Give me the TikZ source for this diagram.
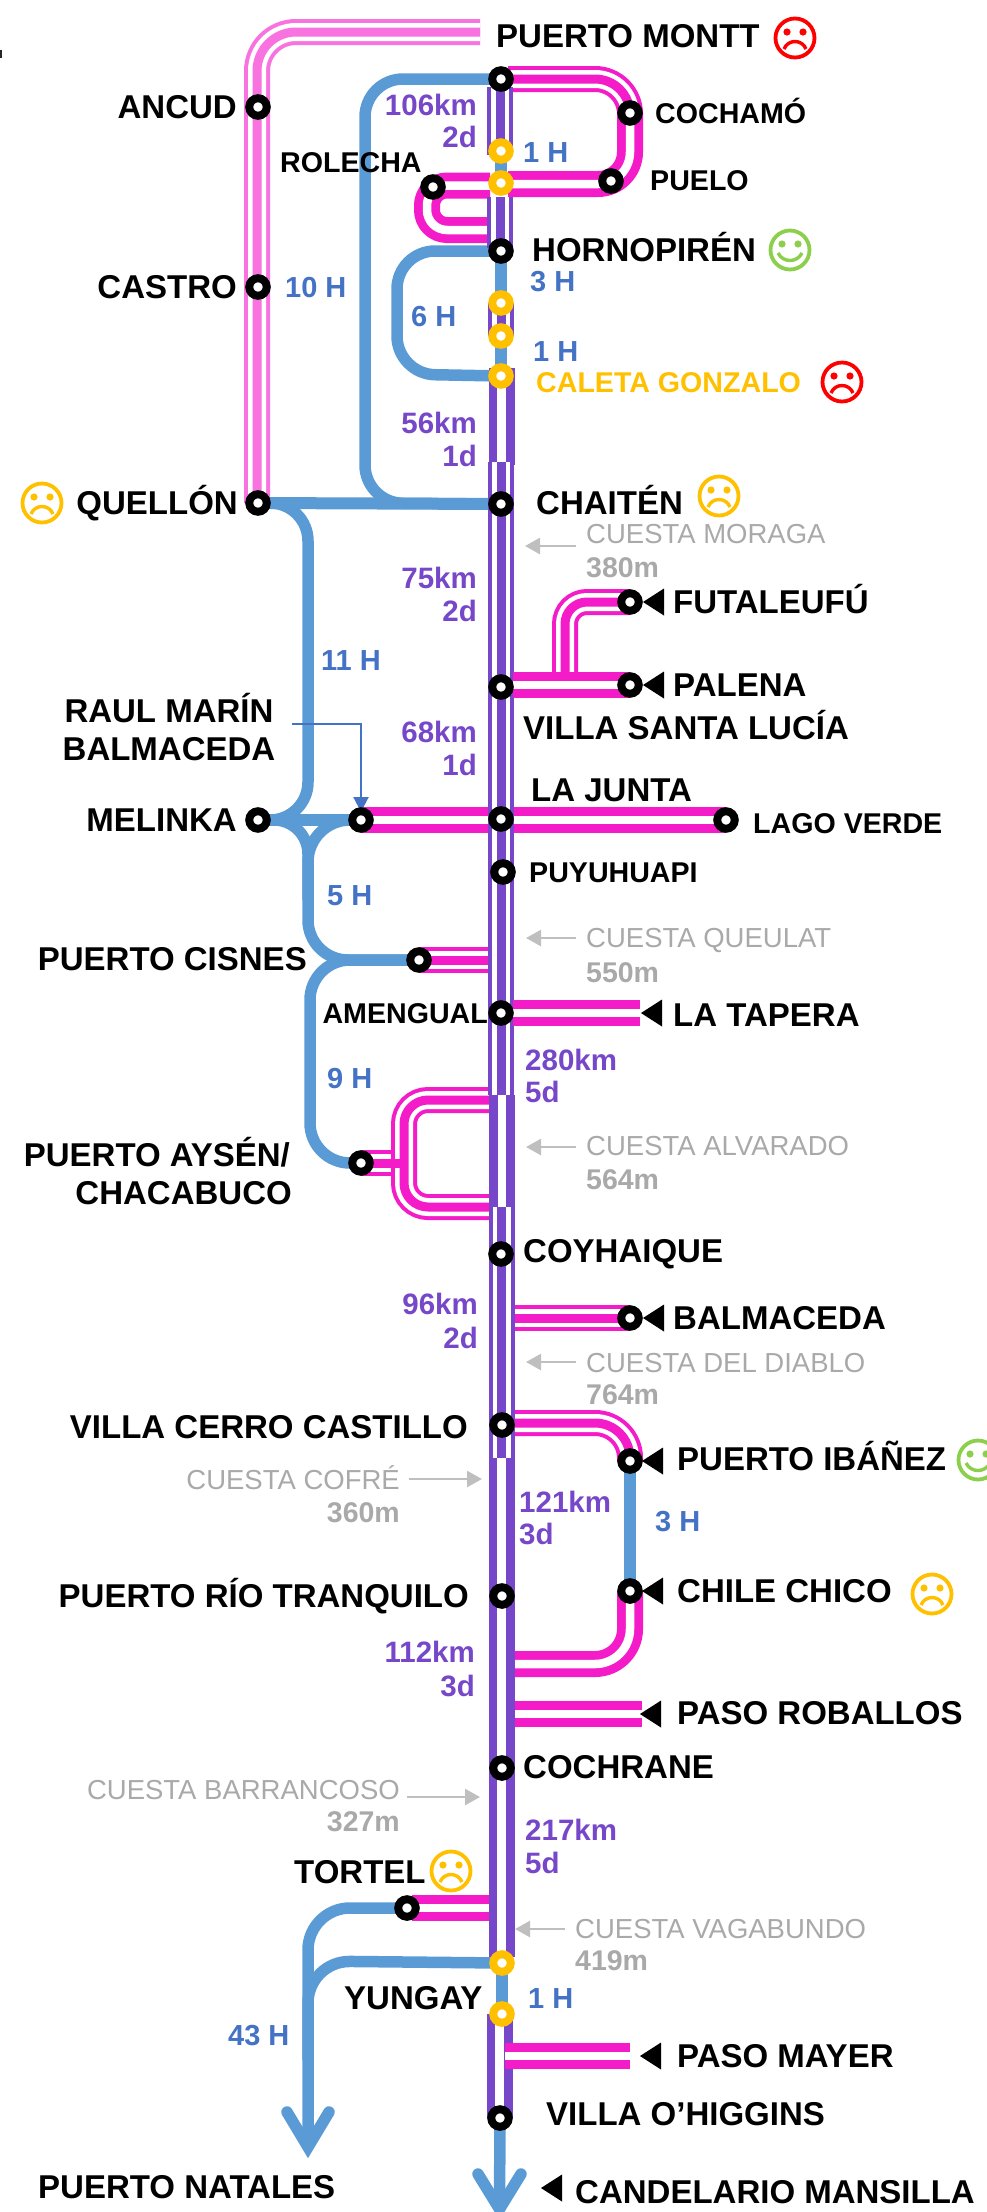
\documentclass[tikz,border=0pt]{standalone}
\usepackage{fontspec}
\setmainfont{Liberation Sans}
\usetikzlibrary{backgrounds,arrows.meta}
\definecolor{cmag}{HTML}{F41CC8}
\definecolor{cpink}{HTML}{F973E0}
\definecolor{cpur}{HTML}{7647C8}
\definecolor{cblu}{HTML}{5B9BD5}
\definecolor{cbtx}{HTML}{4472C4}
\definecolor{cyel}{HTML}{FFC000}
\definecolor{cgar}{HTML}{BFBFBF}
\definecolor{cgtx}{HTML}{A9A9A9}
\definecolor{cgrn}{HTML}{8CCF4D}
\newcommand\tripleL[3][]{\draw[#1,#2,line width=26pt] #3; \draw[#1,white,line width=18pt] #3; \draw[#1,#2,line width=9pt] #3;}
\newcommand\doubleL[3][]{\draw[#1,#2,line width=26pt] #3; \draw[#1,white,line width=8.5pt] #3;}
\newcommand\txt[5]{\node[#1,anchor=#2] (#3) at (#4) {#5};}
\newcommand\tri[2]{\fill[black] (#1,#2) -- ++(21,-13.5) -- ++(0,27) -- cycle;}
\tikzset{
 st/.style={circle,draw=black,fill=white,line width=8pt,minimum size=17.5pt,inner sep=0pt},
 yst/.style={st,draw=cyel},
 bl/.style={cblu,line width=11.5pt},
 big/.style={font=\fontsize{33}{36}\selectfont\bfseries,inner sep=0pt,text height=23pt,text depth=0pt,black},
 mid/.style={font=\fontsize{28.6}{32}\selectfont\bfseries,inner sep=0pt,text height=20pt,text depth=0pt,black},
 pur/.style={mid,text=cpur,font=\fontsize{29.5}{32}\selectfont\bfseries},
 btx/.style={mid,text=cbtx,font=\fontsize{29}{32}\selectfont\bfseries},
 gr/.style={font=\fontsize{27.5}{30}\selectfont,inner sep=0pt,text height=19pt,text depth=0pt,text=cgtx},
 grb/.style={gr,font=\fontsize{28.5}{30}\selectfont\bfseries},
 garr/.style={cgar,line width=2.5pt,-{Triangle[length=15pt,width=16pt]}},
 barr/.style={cbtx,line width=2pt,-{Triangle[length=15pt,width=15pt]}},
 pics/sadf/.style={code={
  \draw[#1,line width=3.8pt] (0,0) circle (19.5pt);
  \fill[#1] (-8,-6) circle (3.6pt) (8,-6) circle (3.6pt);
  \draw[#1,line width=3.4pt] (-11,11) .. controls (-7,1) and (7,1) .. (11,11);}},
 pics/hapf/.style={code={
  \draw[#1,line width=3.8pt] (0,0) circle (19.5pt);
  \fill[#1] (-8,-6) circle (3.6pt) (8,-6) circle (3.6pt);
  \draw[#1,line width=3.4pt] (-12,3) .. controls (-7,13) and (7,13) .. (12,3);}},
}
\begin{document}
\begin{tikzpicture}[x=1pt,y=-1pt]
\useasboundingbox (0,0) rectangle (987,2212);
\fill[black!85] (0,50) rectangle (1.5,58);
% stations
\foreach \n/\x/\y in {montt/501/79,ancud/258/107,castro/258/287,quellon/258/503,cochamo/630/113,puelo/611/181,rolecha/433/187,hornopiren/501/251,chaiten/501/504,vsl/501/687,lajunta/501/819,puyuhuapi/503/872,amengual/501/1013,cisnes/419/960,aysen/361/1163,raul/361/820,melinka/258/820,lagoverde/726/820,futaleufu/630/602,palena/630/685,coyhaique/501/1254,balmaceda/630/1318,cerrocastillo/502/1425,ibanez/630/1461,chilechico/630/1591,riotranquilo/502/1596,cochrane/502/1768,tortel/407/1908,ohiggins/500/2118}
 {\node[st] (\n) at (\x,\y) {};}
\foreach \n/\x/\y in {y1/501/151,y2/501/183,y3/501/303,y4/501/336,caleta/501/376,yungay/502/1963,y7/502/2014}
 {\node[yst] (\n) at (\x,\y) {};}
% free ends and bends
\foreach \n/\x/\y in {pmE/480/32,pmC/257/32,pmQ/257/503,cA/508/79,cB/630/79,pA/508/184,pB/630/184,rA/490/185.5,rB/427/185.5,rC/427/230,rD/490/230,
 fC/565/602,fD/565/676,cJa/308/503,cJb/308/820,cJc/308/900,cD/310/960,cE/310/1163,bMa/365/79,bMb/365/503,bHa/397/251,bHb/397/374,
 cisE/489/960,ayU/404/1100,ayD/404/1207,ayA/489/1100,ayB/489/1207,ayM/404/1163,ayS/392/1163,tapE/640/1013,amS/513/1013,baS/513/1318,baE/630/1318,
 ibA/515/1423,ibB/630/1423,ccA/515/1664,ccB/630/1664,roA/515/1714,roB/642/1714,toE/489/1908,toS/412/1908,mayA/505/2056,mayB/630/2056,vslE/513/685,
 tC/308/1908,tT/308/2147,tL/287/2112,tR/329/2112,yC/308/1961,yD/308/2060,oT/499.5/2209,oL/478/2174,oR/521/2174,
 a1/500/87,a1e/500/155,a2/500/197,a2e/500/248,a3/501/303,a3e/501/336,b1/501.5/368,b1e/501.5/465,a4/501/462,a4e/501/1095,b2/502/1095,b2e/502/1215,a5/501.5/1207,a5e/501.5/1458,b3/501.5/1458,b3e/501.5/1957,b4/499.5/2014,b4e/499.5/2118,
 rarS/292/724,rarC/361/724,rarT/361/812}
 {\coordinate (\n) at (\x,\y);}
\begin{scope}[on background layer]
 \tripleL[rounded corners=39pt]{cpink}{(pmQ) -- (pmC) -- (pmE)}
 % magenta branches
 \tripleL[rounded corners=35pt]{cmag}{(cA) -- (cB) -- (cochamo.center)}
 \doubleL[rounded corners=32pt]{cmag}{(pA) -- (pB) -- (cochamo.center)}
 \doubleL[rounded corners=20pt]{cmag}{(rA) -- (rB) -- (rC) -- (rD)}
 \tripleL[rounded corners=22pt]{cmag}{(futaleufu.center) -- (fC) -- (fD)}
 \doubleL{cmag}{(raul.center) -- (lagoverde.center)}
 \tripleL{cmag}{(cisnes.center) -- (cisE)}
 \tripleL{cmag}{(aysen.center) -- (ayS)}
 \tripleL[rounded corners=24pt]{cmag}{(ayA) -- (ayU) -- (ayD) -- (ayB)}
 \draw[cmag,line width=9pt] (aysen.center) -- (ayM);
 \tripleL{cmag}{(baS) -- (baE)}
 \tripleL[rounded corners=35pt]{cmag}{(ibA) -- (ibB) -- (ibanez.center)}
 \doubleL[rounded corners=35pt]{cmag}{(ccA) -- (ccB) -- (chilechico.center)}
 \doubleL{cmag}{(roA) -- (roB)}
 \doubleL{cmag}{(toS) -- (toE)}
 % blue routes
 \draw[bl,rounded corners=38pt] (montt.center) -- (bMa) -- (bMb) -- (chaiten.center);
 \draw[bl,line width=12pt] (quellon.center) -- (chaiten.center);
 \draw[bl,rounded corners=38pt] (hornopiren.center) -- (bHa) -- (bHb) -- (caleta.center);
 \draw[bl,rounded corners=38pt] (quellon.center) -- (cJa) -- (cJb) -- (melinka.center);
 \draw[bl] (melinka.center) -- (raul.center);
 \draw[bl,rounded corners=34pt] (melinka.center) -- (cJb) -- (cJc);
 \draw[bl,rounded corners=42pt] (raul.center) -- (cJb) -- (cJc);
 \draw[bl,rounded corners=40pt] (cisnes.center) -- (cJc |- cisnes.center) -- (cJc);
 \draw[bl,rounded corners=40pt] (cisnes.center) -- (cD) -- (cE) -- (aysen.center);
 \draw[bl,rounded corners=42pt] (tortel.center) -- (tC) -- (tT);
 \draw[bl,rounded corners=42pt] (yungay.center) -- (yC) -- (yD);
 \draw[bl,line cap=round,miter limit=10] (tL) -- (tT) -- (tR);
 \draw[bl] (ohiggins.center) -- (oT);
 \draw[bl,line cap=round,miter limit=10] (oL) -- (oT) -- (oR);
 \draw[bl] (ibanez.center) -- (chilechico.center);
 \draw[bl] (y1.center) -- (y2.center);
 \draw[bl] (hornopiren.center) -- (y3.center);
 \draw[bl] (y4.center) -- (caleta.center);
 \draw[bl] (yungay.center) -- (y7.center);
 % purple road
 \tripleL{cpur}{(a1) -- (a1e)}
 \tripleL{cpur}{(a2) -- (a2e)}
 \tripleL{cpur}{(a3) -- (a3e)}
 \doubleL{cpur}{(b1) -- (b1e)}
 \tripleL{cpur}{(a4) -- (a4e)}
 \doubleL{cpur}{(b2) -- (b2e)}
 \tripleL{cpur}{(a5) -- (a5e)}
 \doubleL{cpur}{(b3) -- (b3e)}
 \doubleL{cpur}{(b4) -- (b4e)}
 \doubleL{cmag}{(mayA) -- (mayB)}
 \doubleL{cmag}{(vslE) -- (palena.center)}
 \doubleL{cmag}{(amS) -- (tapE)}
 \draw[barr] (rarS) -- (rarC) -- (rarT);
\end{scope}
% triangles
\tri{643}{602}\tri{643}{685}\tri{641}{1013}\tri{643}{1318}\tri{642}{1461}\tri{642}{1591}\tri{640}{1714}\tri{640}{2056}\tri{541}{2188}
% faces
\pic at (795,38) {sadf=red};
\pic at (790,250) {hapf=cgrn};
\pic at (842,382) {sadf=red};
\pic at (42,503) {sadf=cyel};
\pic at (719,496) {sadf=cyel};
\pic at (978,1460) {hapf=cgrn};
\pic at (932,1594) {sadf=cyel};
\pic at (451,1871) {sadf=cyel};
% place labels
\txt{big}{west}{tMontt}{496,36}{PUERTO MONTT}
\txt{big}{east}{tAncud}{237,107}{ANCUD}
\txt{big}{east}{tCastro}{237,287}{CASTRO}
\txt{mid}{west}{tCoch}{655,113}{COCHAMÓ}
\txt{mid}{west}{tPuelo}{650,180}{PUELO}
\txt{mid}{west}{tRole}{280,162}{ROLECHA}
\txt{big}{west}{tHorn}{532,250}{HORNOPIRÉN}
\txt{mid,text=cyel}{west}{tCal}{536,382}{CALETA GONZALO}
\txt{big}{east}{tQuel}{238,503}{QUELLÓN}
\txt{big}{west}{tChai}{536,503}{CHAITÉN}
\txt{big}{west}{tFuta}{673,602}{FUTALEUFÚ}
\txt{big}{west}{tPale}{673,685}{PALENA}
\txt{big}{west}{tVsl}{523,728}{VILLA SANTA LUCÍA}
\txt{big}{west}{tJunt}{531,790}{LA JUNTA}
\txt{mid}{west}{tLago}{753,823}{LAGO VERDE}
\txt{big}{center}{tRaul}{169,711}{RAUL MARÍN}
\txt{big}{center}{tBal}{169,749}{BALMACEDA}
\txt{big}{east}{tMeli}{237,820}{MELINKA}
\txt{mid}{west}{tPuyu}{529,872}{PUYUHUAPI}
\txt{big}{east}{tCisn}{307,959}{PUERTO CISNES}
\txt{mid}{east}{tAmen}{488,1013}{AMENGUAL}
\txt{big}{west}{tTape}{673,1015}{LA TAPERA}
\txt{big}{east}{tAys}{290,1155}{PUERTO AYSÉN/}
\txt{big}{east}{tChac}{292,1193}{CHACABUCO}
\txt{big}{west}{tCoyh}{523,1251}{COYHAIQUE}
\txt{big}{west}{tBalm}{673,1318}{BALMACEDA}
\txt{big}{east}{tVcc}{468,1427}{VILLA CERRO CASTILLO}
\txt{big}{west}{tIban}{677,1459}{PUERTO IBÁÑEZ}
\txt{big}{west}{tChil}{677,1591}{CHILE CHICO}
\txt{big}{east}{tRio}{469,1596}{PUERTO RÍO TRANQUILO}
\txt{big}{west}{tRob}{677,1713}{PASO ROBALLOS}
\txt{big}{west}{tCoch2}{523,1767}{COCHRANE}
\txt{big}{west}{tTort}{294,1872}{TORTEL}
\txt{big}{west}{tYung}{344,1998}{YUNGAY}
\txt{big}{west}{tMay}{677,2056}{PASO MAYER}
\txt{big}{west}{tOhi}{546,2114}{VILLA O’HIGGINS}
\txt{big}{west}{tNat}{38,2187}{PUERTO NATALES}
\txt{big}{west}{tCand}{575,2192}{CANDELARIO MANSILLA}
% hours
\txt{btx}{west}{h1}{285,287}{10 H}
\txt{btx}{west}{h2}{411,316}{6 H}
\txt{btx}{west}{h3}{523,152}{1 H}
\txt{btx}{west}{h4}{530,281}{3 H}
\txt{btx}{west}{h5}{533,351}{1 H}
\txt{btx}{west}{h6}{321,660}{11 H}
\txt{btx}{west}{h7}{327,895}{5 H}
\txt{btx}{west}{h8}{327,1078}{9 H}
\txt{btx}{west}{h9}{655,1521}{3 H}
\txt{btx}{west}{h10}{528,1998}{1 H}
\txt{btx}{west}{h11}{228,2035}{43 H}
% distances
\txt{pur}{east}{d1}{477,105}{106km}
\txt{pur}{east}{d1b}{477,137}{2d}
\txt{pur}{east}{d2}{477,423}{56km}
\txt{pur}{east}{d2b}{477,456}{1d}
\txt{pur}{east}{d3}{477,578}{75km}
\txt{pur}{east}{d3b}{477,611}{2d}
\txt{pur}{east}{d4}{477,732}{68km}
\txt{pur}{east}{d4b}{477,765}{1d}
\txt{pur}{west}{d5}{525,1060}{280km}
\txt{pur}{west}{d5b}{525,1092}{5d}
\txt{pur}{east}{d6}{478,1304}{96km}
\txt{pur}{east}{d6b}{478,1338}{2d}
\txt{pur}{west}{d7}{519,1502}{121km}
\txt{pur}{west}{d7b}{519,1534}{3d}
\txt{pur}{east}{d8}{475,1652}{112km}
\txt{pur}{east}{d8b}{475,1686}{3d}
\txt{pur}{west}{d9}{525,1830}{217km}
\txt{pur}{west}{d9b}{525,1863}{5d}
% passes
\txt{gr}{west}{g1}{586,534}{CUESTA MORAGA}
\txt{grb}{west}{g1b}{586,568}{380m}
\txt{gr}{west}{g2}{586,938}{CUESTA QUEULAT}
\txt{grb}{west}{g2b}{586,973}{550m}
\txt{gr}{west}{g3}{586,1146}{CUESTA ALVARADO}
\txt{grb}{west}{g3b}{586,1180}{564m}
\txt{gr}{west}{g4}{586,1363}{CUESTA DEL DIABLO}
\txt{grb}{west}{g4b}{586,1395}{764m}
\txt{gr}{east}{g5}{400,1480}{CUESTA COFRÉ}
\txt{grb}{east}{g5b}{400,1513}{360m}
\txt{gr}{east}{g6}{400,1790}{CUESTA BARRANCOSO}
\txt{grb}{east}{g6b}{400,1822}{327m}
\txt{gr}{west}{g7}{575,1929}{CUESTA VAGABUNDO}
\txt{grb}{west}{g7b}{575,1961}{419m}
% pass arrows
\foreach \n/\xa/\xb/\y in {k1/576/525/546,k2/576/526/938,k3/576/526/1147,k4/576/526/1362,k5/409/482/1479,k6/407/480/1797,k7/565/515/1929}{
 \coordinate (\n s) at (\xa,\y); \coordinate (\n e) at (\xb,\y);
 \draw[garr] (\n s) -- (\n e);}
\end{tikzpicture}
\end{document}
